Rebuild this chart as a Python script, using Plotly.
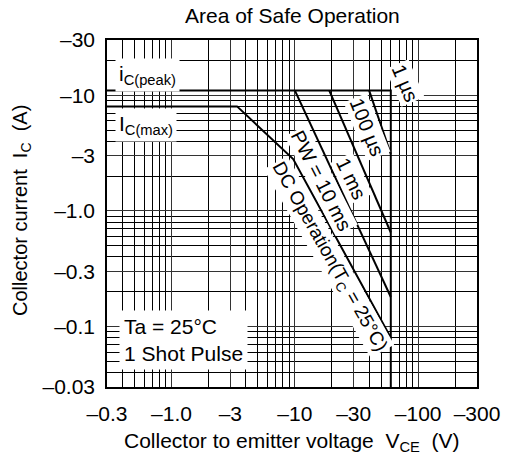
import plotly.graph_objects as go

# ---------------- data (magnitudes; axes are labelled negative) ----------------
# i_C(peak) limit then V_CEO vertical limit (1 us boundary)
vce_peak = [0.3, 60, 60]
ic_peak = [11, 11, 0.03]
# I_C(max) / DC operation boundary
vce_dc = [0.3, 3.4, 9.7, 60]
ic_dc = [8, 8, 2.8, 0.08]
# pulse width boundaries
vce_10ms = [10, 60]
ic_10ms = [11, 0.18]
vce_1ms = [19, 60]
ic_1ms = [11, 0.65]
vce_100us = [40, 60]
ic_100us = [11, 3.1]

x_tickvals = [0.3, 1, 3, 10, 30, 100, 300]
x_ticktext = ["\u20130.3", "\u20131.0", "\u20133", "\u201310", "\u201330", "\u2013100", "\u2013300"]
y_tickvals = [0.03, 0.1, 0.3, 1, 3, 10, 30]
y_ticktext = ["\u20130.03", "\u20130.1", "\u20130.3", "\u20131.0", "\u20133", "\u201310", "\u201330"]

x_minor = [0.4, 0.5, 0.6, 0.7, 0.8, 0.9, 2, 4, 5, 6, 7, 8, 9, 20, 40, 50, 60, 70, 80, 90, 200]
y_minor = [0.04, 0.05, 0.06, 0.07, 0.08, 0.09, 0.2, 0.4, 0.5, 0.6, 0.7, 0.8, 0.9,
           2, 4, 5, 6, 7, 8, 9, 20]

# ---------------- figure ----------------
FONT = "Liberation Sans, Arial, Helvetica, sans-serif"
W, H = 513, 461
L, R, T, B = 107, 36, 40, 74

def paper(xp, yp):
    return (xp - L) / (W - L - R), (H - B - yp) / (H - T - B)

fig = go.Figure()
line = dict(color="black", width=2)
for xs, ys in [(vce_peak, ic_peak), (vce_dc, ic_dc), (vce_10ms, ic_10ms),
               (vce_1ms, ic_1ms), (vce_100us, ic_100us)]:
    fig.add_trace(go.Scatter(x=xs, y=ys, mode="lines", line=line,
                             hoverinfo="skip", showlegend=False))

axis_common = dict(
    type="log", showline=True, linecolor="black", linewidth=1.5, mirror=True,
    showgrid=True, gridcolor="#333333", gridwidth=1, zeroline=False,
    ticks="", tickmode="array", tickfont=dict(family=FONT, size=21, color="black"),
)
fig.update_xaxes(**axis_common, range=[-0.5229, 2.4771],
                 tickvals=x_tickvals, ticktext=x_ticktext, ticklabelstandoff=7,
                 minor=dict(tickmode="array", tickvals=x_minor, showgrid=True,
                            gridcolor="black", gridwidth=1, ticks=""))
fig.update_yaxes(**axis_common, range=[-1.5229, 1.4771],
                 tickvals=y_tickvals, ticktext=y_ticktext, ticklabelstandoff=6,
                 minor=dict(tickmode="array", tickvals=y_minor, showgrid=True,
                            gridcolor="black", gridwidth=1, ticks=""))

anns = []
def ann(text, xp, yp, size=21, angle=0, bg="white", align="center", xanchor="center", pad=1):
    x, y = paper(xp, yp)
    anns.append(dict(text=text, x=x, y=y, xref="paper", yref="paper", showarrow=False,
                     textangle=angle, bgcolor=bg, borderpad=pad, align=align,
                     xanchor=xanchor, yanchor="middle",
                     font=dict(family=FONT, size=size, color="black")))

ann("i<sub>C(peak)</sub>", 115, 75, xanchor="left", pad=3)
ann("I<sub>C(max)</sub>", 115, 125, xanchor="left", pad=3)
ann("1 \u00b5s", 405, 83, size=20, angle=67)
ann("100 \u00b5s", 367, 127, size=20, angle=68)
ann("1 ms", 351, 178, size=20, angle=64)
ann("PW = 10 ms", 321, 180, size=20, angle=63)
ann("DC Operation(T<sub>C</sub> = 25\u00b0C)", 329, 257, size=19, angle=60.5)
ann("Ta = 25\u00b0C<br>1 Shot Pulse", 119, 340, align="left", xanchor="left", pad=4)

# title and axis titles
ann("Area of Safe Operation", 292, 15, size=21, bg="rgba(0,0,0,0)", pad=0)
ann("Collector to emitter voltage\u00a0\u00a0V<sub>CE</sub>\u00a0\u00a0(V)", 292, 442,
    size=21, bg="rgba(0,0,0,0)", pad=0)
ann("Collector current\u00a0\u00a0I<sub>C</sub>\u00a0\u00a0(A)", 21, 211, size=20, angle=-90,
    bg="rgba(0,0,0,0)", pad=0)

fig.update_layout(width=W, height=H, margin=dict(l=L, r=R, t=T, b=B),
                  paper_bgcolor="white", plot_bgcolor="white",
                  annotations=anns, font=dict(family=FONT, color="black"))

fig.write_html("out.html", config={"displayModeBar": False},
               post_script="document.body.style.margin='0';document.body.style.padding='0';")
